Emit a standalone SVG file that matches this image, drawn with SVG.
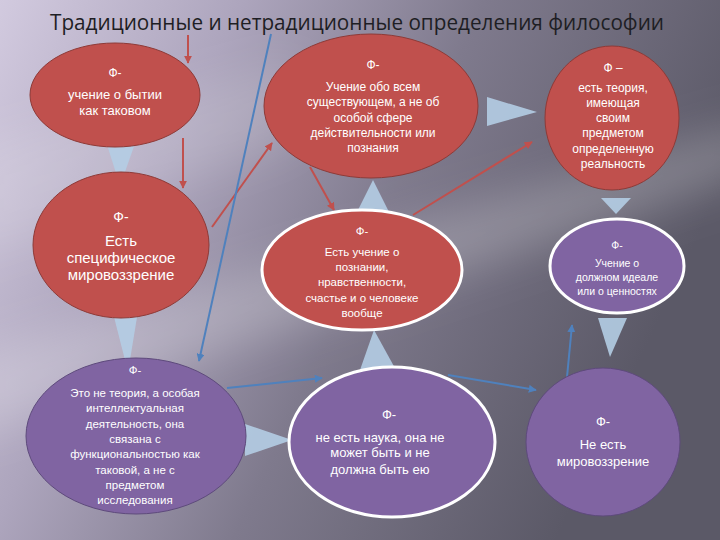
<svg xmlns="http://www.w3.org/2000/svg" width="720" height="540" viewBox="0 0 720 540">
<defs>
<linearGradient id="bg" x1="0" y1="0" x2="1" y2="0.35">
<stop offset="0" stop-color="#d2cadf"/>
<stop offset="0.3" stop-color="#ada5bd"/>
<stop offset="0.6" stop-color="#7f7a8d"/>
<stop offset="1" stop-color="#5b5967"/>
</linearGradient>
<filter id="blur" x="-20%" y="-50%" width="140%" height="200%">
<feGaussianBlur stdDeviation="22"/>
</filter>
<marker id="ar" viewBox="0 0 10 10" refX="9" refY="5" markerWidth="4" markerHeight="4" orient="auto">
<path d="M0,0 L10,5 L0,10 z" fill="#c0504d"/>
</marker>
<marker id="ab" viewBox="0 0 10 10" refX="9" refY="5" markerWidth="4" markerHeight="4" orient="auto">
<path d="M0,0 L10,5 L0,10 z" fill="#4f81bd"/>
</marker>
</defs>
<style>
.red{fill:#c0504d;stroke:#8e3a37;stroke-width:1}
.redw{fill:#c0504d;stroke:#ffffff;stroke-width:3}
.pur{fill:#8064a2;stroke:#5e4a7c;stroke-width:1}
.purw{fill:#8064a2;stroke:#ffffff;stroke-width:3}
.tri{fill:#b4cde4;fill-opacity:0.9}
.lr{stroke:#c0504d;stroke-width:2;fill:none;marker-end:url(#ar)}
.lb{stroke:#4f81bd;stroke-width:2;fill:none;marker-end:url(#ab)}
text{font-family:"Liberation Sans",Arial,sans-serif;fill:#ffffff;text-anchor:middle}
.title{font-family:"Open Sans","Liberation Sans",sans-serif;fill:#1e1e24;text-anchor:start;font-size:22px}
</style>
<rect x="0" y="0" width="720" height="540" fill="url(#bg)"/>
<polygon points="-40,360 760,120 760,170 -40,440" fill="#ffffff" fill-opacity="0.22" filter="url(#blur)"/>
<polygon points="-40,150 300,60 300,140 -40,260" fill="#ffffff" fill-opacity="0.15" filter="url(#blur)"/>
<text class="title" x="50" y="30" textLength="614" lengthAdjust="spacingAndGlyphs">Традиционные и нетрадиционные определения философии</text>
<g id="connectors">
<polygon class="tri" points="104,135 138,135 120,186"/>
<polygon class="tri" points="111,305 139,305 128,372"/>
<polygon class="tri" points="487,97 487,126 537,112"/>
<polygon class="tri" points="601,198 631,198 616,214"/>
<polygon class="tri" points="598,318 627,318 610,357"/>
<polygon class="tri" points="357,212 389,212 373,180"/>
<polygon class="tri" points="360,370 396,370 374,330"/>
<polygon class="tri" points="245,424 245,456 292,440"/>
<line class="lr" x1="188" y1="35" x2="188" y2="63"/>
<line class="lr" x1="183" y1="138" x2="183" y2="188"/>
<line class="lr" x1="212" y1="227" x2="272" y2="143"/>
<line class="lr" x1="310" y1="167" x2="334" y2="210"/>
<line class="lr" x1="413" y1="215" x2="532" y2="142"/>
<line class="lb" x1="271" y1="34" x2="199" y2="361"/>
<line class="lb" x1="227" y1="388" x2="322" y2="378"/>
<line class="lb" x1="448" y1="375" x2="536" y2="390"/>
<line class="lb" x1="567" y1="377" x2="572" y2="325"/>
</g>
<g id="n1">
<ellipse class="red" cx="115" cy="95" rx="85" ry="52"/>
<text x="115" y="77" font-size="12">Ф-</text>
<text x="115" y="99" font-size="13">учение о бытии</text>
<text x="115" y="115" font-size="13">как таковом</text>
</g>
<g id="n2">
<ellipse class="red" cx="121" cy="245" rx="88" ry="73"/>
<text x="121" y="222" font-size="14">Ф-</text>
<text x="121" y="246" font-size="15">Есть</text>
<text x="121" y="263" font-size="15">специфическое</text>
<text x="121" y="280" font-size="15">мировоззрение</text>
</g>
<g id="n3">
<ellipse class="red" cx="371" cy="106" rx="107" ry="72"/>
<text x="373" y="69" font-size="12">Ф-</text>
<text x="373" y="91" font-size="12">Учение обо всем</text>
<text x="373" y="106" font-size="12">существующем, а не  об</text>
<text x="373" y="122" font-size="12">особой сфере</text>
<text x="373" y="137" font-size="12">действительности или</text>
<text x="373" y="152" font-size="12">познания</text>
</g>
<g id="n4">
<ellipse class="red" cx="612" cy="118" rx="67" ry="72"/>
<text x="613" y="72" font-size="12">Ф –</text>
<text x="613" y="92" font-size="12">есть теория,</text>
<text x="613" y="107" font-size="12">имеющая</text>
<text x="613" y="122" font-size="12">своим</text>
<text x="613" y="137" font-size="12">предметом</text>
<text x="613" y="153" font-size="12">определенную</text>
<text x="613" y="168" font-size="12">реальность</text>
</g>
<g id="n5">
<ellipse class="redw" cx="362" cy="270" rx="100" ry="60"/>
<text x="362" y="235" font-size="11.5">Ф-</text>
<text x="362" y="256" font-size="11.5">Есть учение о</text>
<text x="362" y="271" font-size="11.5">познании,</text>
<text x="362" y="286" font-size="11.5">нравственности,</text>
<text x="362" y="302" font-size="11.5">счастье и о человеке</text>
<text x="362" y="317" font-size="11.5">вообще</text>
</g>
<g id="n6">
<ellipse class="purw" cx="617" cy="266" rx="67" ry="47"/>
<text x="617" y="249" font-size="10.5">Ф-</text>
<text x="617" y="267" font-size="10.5">Учение о</text>
<text x="617" y="281" font-size="10.5">должном идеале</text>
<text x="617" y="295" font-size="10.5">или о ценностях</text>
</g>
<g id="n7">
<ellipse class="pur" cx="136" cy="436" rx="110" ry="78"/>
<text x="135" y="374" font-size="11.5">Ф-</text>
<text x="135" y="397" font-size="11.5">Это не теория, а особая</text>
<text x="135" y="412" font-size="11.5">интеллектуальная</text>
<text x="135" y="428" font-size="11.5">деятельность, она</text>
<text x="135" y="443" font-size="11.5">связана с</text>
<text x="135" y="458" font-size="11.5">функциональностью как</text>
<text x="135" y="474" font-size="11.5">таковой, а не с</text>
<text x="135" y="489" font-size="11.5">предметом</text>
<text x="135" y="504" font-size="11.5">исследования</text>
</g>
<g id="n8">
<ellipse class="purw" cx="392" cy="442" rx="103" ry="75"/>
<text x="389" y="419" font-size="13">Ф-</text>
<text x="380" y="442" font-size="13">не есть  наука, она не</text>
<text x="380" y="457" font-size="13">может быть  и не</text>
<text x="380" y="474" font-size="13">должна  быть ею</text>
</g>
<g id="n9">
<ellipse class="pur" cx="603" cy="442" rx="77" ry="74"/>
<text x="603" y="426" font-size="13">Ф-</text>
<text x="603" y="449" font-size="13">Не есть</text>
<text x="603" y="466" font-size="13">мировоззрение</text>
</g>
</svg>
